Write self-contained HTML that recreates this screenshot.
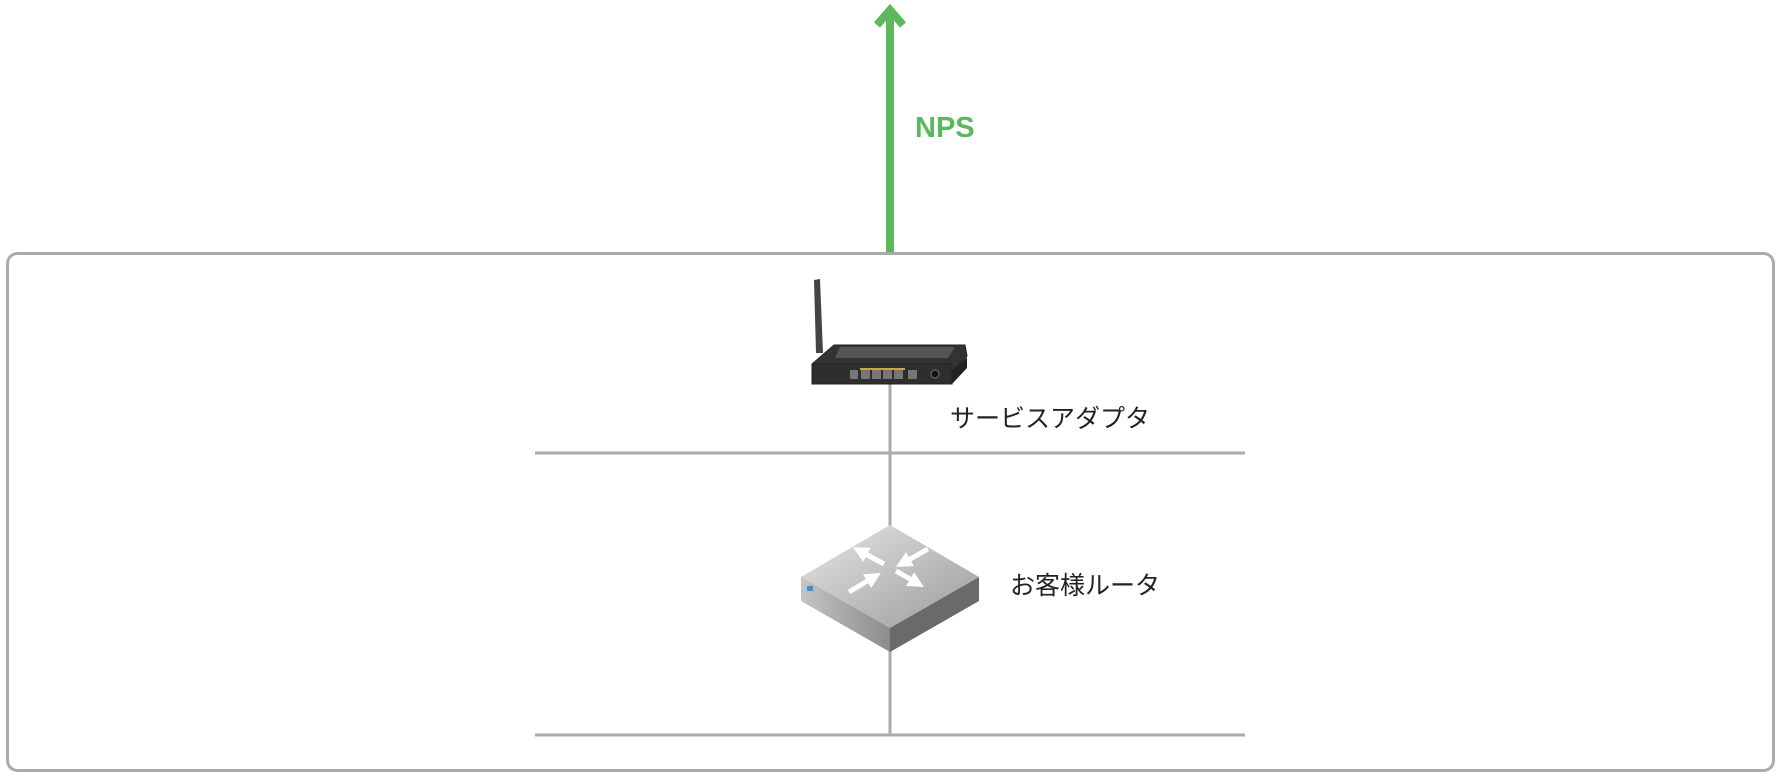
<!DOCTYPE html>
<html><head><meta charset="utf-8"><style>
html,body{margin:0;padding:0;background:#fff;width:1780px;height:779px;overflow:hidden}
</style></head><body>
<svg width="1780" height="779" viewBox="0 0 1780 779" xmlns="http://www.w3.org/2000/svg">
<defs>
<linearGradient id="top" x1="0" y1="0" x2="1" y2="1">
<stop offset="0" stop-color="#e6e6e6"/><stop offset="1" stop-color="#9a9a9a"/></linearGradient>
<linearGradient id="lf" x1="0" y1="0" x2="1" y2="0">
<stop offset="0" stop-color="#c4c4c4"/><stop offset="1" stop-color="#8c8c8c"/></linearGradient>
<marker id="ah" viewBox="0 0 10 10" refX="5" refY="5" markerWidth="3.2" markerHeight="3.2" orient="auto">
<path d="M0,0 L10,5 L0,10 Z" fill="#fff"/></marker>
</defs>
<rect x="7.5" y="253.5" width="1766" height="517" rx="10" fill="none" stroke="#aaaaaa" stroke-width="3"/>
<line x1="890" y1="252" x2="890" y2="14" stroke="#5cb85c" stroke-width="8"/>
<polyline points="877,25 890,10 903,25" fill="none" stroke="#5cb85c" stroke-width="8"/>
<text x="915" y="137" font-family="Liberation Sans, sans-serif" font-weight="bold" font-size="29" fill="#5cb85c">NPS</text>
<line x1="890" y1="384" x2="890" y2="735" stroke="#aaaaaa" stroke-width="3"/>
<line x1="535" y1="453" x2="1245" y2="453" stroke="#aaaaaa" stroke-width="3"/>
<line x1="535" y1="735" x2="1245" y2="735" stroke="#aaaaaa" stroke-width="3"/>
<!-- router -->
<path d="M814,280 L820,279 L823,353 L816,353 Z" fill="#444"/>
<path d="M812,364 L834,345 L965,345 L967,356 L952,372 L812,372 Z" fill="#333" stroke="#222"/>
<path d="M840,347 L955,347 L948,358 L835,358 Z" fill="#555"/>
<rect x="812" y="364" width="140" height="20" fill="#2e2e2e" stroke="#222"/>
<path d="M952,372 L967,357 L967,368 L952,384 Z" fill="#222"/>
<rect x="860" y="368" width="45" height="2" fill="#c9a93b"/>
<g fill="#777"><rect x="850" y="370" width="8" height="9"/><rect x="861" y="370" width="9" height="9"/><rect x="872" y="370" width="9" height="9"/><rect x="883" y="370" width="9" height="9"/><rect x="894" y="370" width="9" height="9"/><rect x="908" y="370" width="9" height="9"/></g>
<circle cx="935" cy="374" r="4" fill="#111" stroke="#777"/>
<text x="950" y="427" font-family="Liberation Sans, 'Noto Sans CJK JP', sans-serif" font-size="25" fill="#222">サービスアダプタ</text>
<!-- switch -->
<polygon points="890,525 979,577 890,628 801,577" fill="url(#top)"/>
<polygon points="801,577 890,628 890,652 801,601" fill="url(#lf)"/>
<polygon points="890,628 979,577 979,601 890,652" fill="#6a6a6a"/>
<rect x="807" y="586" width="6" height="5" fill="#3a8fd0"/>
<g stroke="#fff" stroke-width="5" marker-end="url(#ah)">
<line x1="884" y1="564" x2="860" y2="551"/>
<line x1="896" y1="571" x2="917" y2="583"/>
<line x1="928" y1="549" x2="903" y2="563"/>
<line x1="849" y1="592" x2="874" y2="577"/>
</g>
<text x="1010" y="594" font-family="Liberation Sans, 'Noto Sans CJK JP', sans-serif" font-size="25" fill="#222">お客様ルータ</text>
</svg>
</body></html>
